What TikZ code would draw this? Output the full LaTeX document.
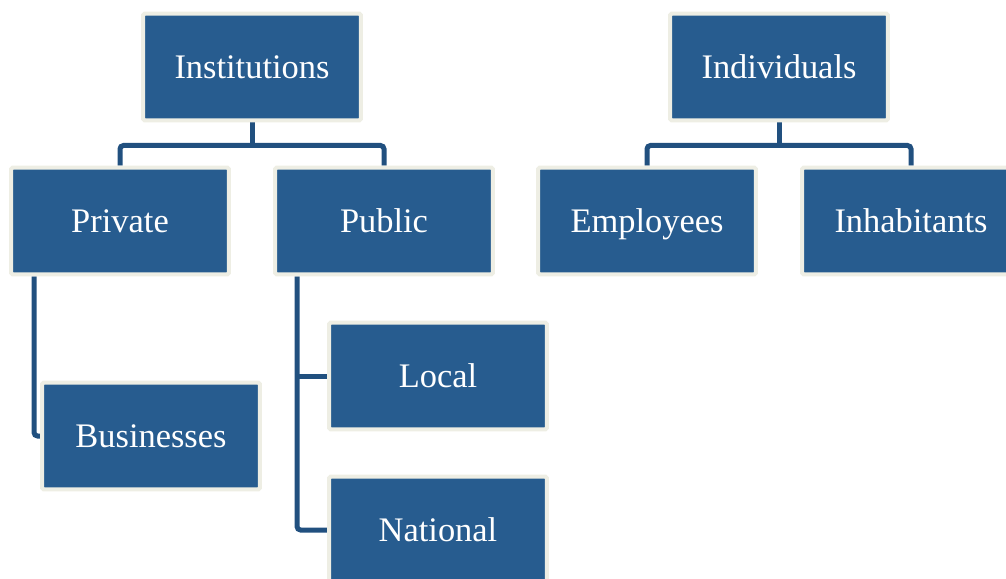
\documentclass[tikz,border=0pt]{standalone}
\usepackage{fontspec}
\setmainfont{Liberation Serif}
\usetikzlibrary{calc,backgrounds}

\definecolor{boxblue}{HTML}{275C8F}
\definecolor{boxrim}{HTML}{EEEEE4}
\definecolor{linkblue}{HTML}{21507F}

\tikzset{
  unit/.style={draw=boxrim,fill=boxblue,line width=0.08cm,rounded corners=1pt,
    minimum width=4.36cm,minimum height=2.14cm,inner sep=0pt,
    text height=13pt,text depth=0pt,
    text=white,font=\fontsize{19.6}{24}\selectfont},
  link/.style={draw=linkblue,line width=0.1cm,rounded corners=2pt}
}

\begin{document}
\begin{tikzpicture}[x=0.02cm,y=-0.02cm]
  \useasboundingbox (0,0) rectangle (1006,578);

  % top level
  \node[unit] (inst) at (252,67) {Institutions};
  \node[unit] (indiv) at (779,67) {Individuals};

  % second level
  \node[unit] (priv) at (120,221) {Private};
  \node[unit] (pub) at (384,221) {Public};
  \node[unit] (emp) at (647,221) {Employees};
  \node[unit] (inh) at (911,221) {Inhabitants};

  % third level
  \node[unit] (bus) at (151,436) {Businesses};
  \node[unit] (loc) at (438,376) {Local};
  \node[unit] (nat) at (438,530) {National};

  \begin{scope}[on background layer]
    \draw[link] (inst.south) -- ++(0,23) coordinate (instfork);
    \draw[link] (priv.north) |- (instfork) -| (pub.north);
    \draw[link] (indiv.south) -- ++(0,23) coordinate (indivfork);
    \draw[link] (emp.north) |- (indivfork) -| (inh.north);

    \draw[link] ($(priv.south west)+(25,0)$) |- (bus.west);
    \draw[link] ($(pub.south west)+(24,0)$) coordinate (pubtrunk) |- (nat.west);
    \draw[link] (loc.west) -- (loc.west -| pubtrunk);
  \end{scope}
\end{tikzpicture}
\end{document}
